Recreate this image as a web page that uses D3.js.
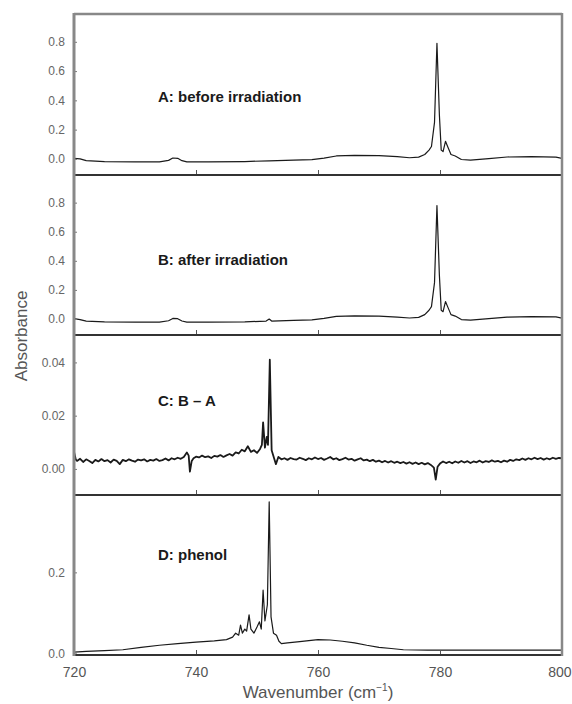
<!DOCTYPE html>
<html><head><meta charset="utf-8">
<script src="https://cdn.jsdelivr.net/npm/d3@7"></script>
<style>body{margin:0;background:#fff;}svg{display:block;font-family:Arial,"Liberation Sans",sans-serif;}</style>
</head><body>
<svg id="c" width="572" height="704"></svg>
<script>
// ---- data ----
const xTicks = [720, 740, 760, 780, 800];
const panelLabels = ["A: before irradiation", "B: after irradiation", "C: B \u2013 A", "D: phenol"];
const yTicksA = [0, 0.2, 0.4, 0.6, 0.8];
const yTicksB = [0, 0.2, 0.4, 0.6, 0.8];
const yTicksC = [0, 0.02, 0.04];
const yTicksD = [0, 0.2];

const specA = [[720,0.003],[721,0.0],[722,-0.012],[725,-0.018],[730,-0.02],[734,-0.02],[735.5,-0.01],[736.2,0.006],[737,0.004],[737.7,-0.012],[738.5,-0.02],[742,-0.02],[748,-0.018],[752,-0.013],[756,-0.009],[759,-0.005],[761,0.005],[763,0.02],[766,0.024],[770,0.022],[773,0.015],[775,0.008],[776.5,0.012],[777.5,0.03],[778.2,0.06],[778.6,0.085],[779.1,0.25],[779.5,0.79],[779.9,0.3],[780.2,0.06],[780.5,0.05],[780.9,0.12],[781.3,0.08],[781.8,0.03],[782.5,0.02],[783.5,-0.004],[785,-0.008],[788,0.002],[791,0.013],[795,0.015],[799,0.012],[800,0.004]];
const specB = [[720,0.002],[721,-0.004],[722,-0.015],[725,-0.02],[730,-0.022],[734,-0.022],[735.5,-0.012],[736.2,0.004],[737,0.002],[737.7,-0.014],[738.5,-0.022],[742,-0.022],[748,-0.02],[751.5,-0.014],[752,0.0],[752.4,-0.014],[756,-0.01],[759,-0.006],[761,0.004],[763,0.018],[766,0.022],[770,0.02],[773,0.013],[775,0.007],[776.5,0.011],[777.5,0.03],[778.2,0.06],[778.6,0.085],[779.1,0.25],[779.5,0.78],[779.9,0.3],[780.2,0.06],[780.5,0.05],[780.9,0.12],[781.3,0.08],[781.8,0.03],[782.5,0.02],[783.5,-0.004],[785,-0.008],[788,0.002],[791,0.013],[795,0.016],[799,0.014],[800,0.006]];
const specC = [[720.0,0.0065],[720.3,0.0035],[720.5,0.0030],[721.0,0.0038],[721.5,0.0026],[722.0,0.0036],[722.5,0.0030],[723.0,0.0022],[723.5,0.0034],[724.0,0.0028],[724.5,0.0037],[725.0,0.0029],[725.5,0.0033],[726.0,0.0024],[726.5,0.0035],[727.0,0.0030],[727.5,0.0018],[728.0,0.0034],[728.5,0.0029],[729.0,0.0036],[729.5,0.0031],[730.0,0.0027],[730.5,0.0035],[731.0,0.0032],[731.5,0.0036],[732.0,0.0028],[732.5,0.0034],[733.0,0.0031],[733.5,0.0037],[734.0,0.0030],[734.5,0.0033],[735.0,0.0039],[735.5,0.0032],[736.0,0.0040],[736.5,0.0036],[737.0,0.0042],[737.5,0.0038],[738.0,0.0045],[738.5,0.0062],[738.8,0.0050],[739.0,-0.0010],[739.3,0.0030],[739.6,0.0040],[740.0,0.0046],[740.5,0.0043],[741.0,0.0050],[741.5,0.0044],[742.0,0.0047],[742.5,0.0041],[743.0,0.0049],[743.5,0.0046],[744.0,0.0052],[744.5,0.0045],[745.0,0.0051],[745.5,0.0056],[746.0,0.0050],[746.5,0.0062],[747.0,0.0058],[747.5,0.0072],[748.0,0.0066],[748.5,0.0085],[749.0,0.0064],[749.5,0.0070],[750.0,0.0060],[750.5,0.0075],[750.8,0.0090],[751.0,0.0175],[751.3,0.0080],[751.6,0.0120],[751.8,0.0090],[752.1,0.0410],[752.4,0.0070],[752.8,0.0040],[753.1,0.0018],[753.5,0.0045],[754.0,0.0036],[754.5,0.0040],[755.0,0.0034],[755.5,0.0041],[756.0,0.0037],[756.5,0.0035],[757.0,0.0042],[757.5,0.0038],[758.0,0.0033],[758.5,0.0040],[759.0,0.0036],[759.5,0.0043],[760.0,0.0037],[760.5,0.0041],[761.0,0.0034],[761.5,0.0039],[762.0,0.0045],[762.5,0.0036],[763.0,0.0040],[763.5,0.0033],[764.0,0.0037],[764.5,0.0042],[765.0,0.0035],[765.5,0.0038],[766.0,0.0031],[766.5,0.0036],[767.0,0.0040],[767.5,0.0032],[768.0,0.0035],[768.5,0.0029],[769.0,0.0034],[769.5,0.0027],[770.0,0.0031],[770.5,0.0025],[771.0,0.0030],[771.5,0.0024],[772.0,0.0029],[772.5,0.0023],[773.0,0.0027],[773.5,0.0022],[774.0,0.0026],[774.5,0.0020],[775.0,0.0025],[775.5,0.0019],[776.0,0.0024],[776.5,0.0018],[777.0,0.0023],[777.5,0.0017],[778.0,0.0022],[778.5,0.0015],[779.0,0.0005],[779.3,-0.0040],[779.6,0.0008],[780.0,0.0020],[780.5,0.0028],[781.0,0.0022],[781.5,0.0027],[782.0,0.0021],[782.5,0.0028],[783.0,0.0023],[783.5,0.0030],[784.0,0.0024],[784.5,0.0029],[785.0,0.0022],[785.5,0.0028],[786.0,0.0025],[786.5,0.0031],[787.0,0.0024],[787.5,0.0029],[788.0,0.0026],[788.5,0.0032],[789.0,0.0027],[789.5,0.0030],[790.0,0.0025],[790.5,0.0031],[791.0,0.0027],[791.5,0.0034],[792.0,0.0030],[792.5,0.0036],[793.0,0.0033],[793.5,0.0039],[794.0,0.0034],[794.5,0.0040],[795.0,0.0036],[795.5,0.0042],[796.0,0.0037],[796.5,0.0041],[797.0,0.0035],[797.5,0.0040],[798.0,0.0036],[798.5,0.0042],[799.0,0.0038],[799.5,0.0041],[800.0,0.0040]];
const specD = [[720,0.003],[722,0.005],[725,0.007],[728,0.009],[731,0.015],[734,0.02],[737,0.024],[740,0.028],[743,0.031],[745,0.034],[746,0.04],[746.5,0.05],[747,0.045],[747.3,0.07],[747.6,0.05],[748,0.06],[748.3,0.055],[748.7,0.095],[749,0.06],[749.5,0.05],[750,0.065],[750.4,0.078],[750.7,0.06],[751.0,0.156],[751.3,0.08],[751.7,0.12],[752.0,0.374],[752.3,0.09],[752.7,0.05],[753.2,0.045],[753.6,0.03],[754,0.024],[755,0.026],[757,0.029],[760,0.034],[762,0.033],[764,0.03],[766,0.026],[768,0.02],[770,0.015],[772,0.012],[774,0.009],[778,0.008],[785,0.008],[790,0.008],[795,0.008],[800,0.008]];

// ---- layout ----
const L = 74, R = 562;
const panels = [
  {data: specA, top: 14,  bot: 175, dom: [-0.11, 0.99],     ticks: yTicksA, fmt: ".1f", label: panelLabels[0], ly: 102, sw: 1.2},
  {data: specB, top: 175, bot: 335, dom: [-0.11, 0.99],     ticks: yTicksB, fmt: ".1f", label: panelLabels[1], ly: 265, sw: 1.2},
  {data: specC, top: 335, bot: 495, dom: [-0.0098, 0.0503], ticks: yTicksC, fmt: ".2f", label: panelLabels[2], ly: 406, sw: 1.8},
  {data: specD, top: 495, bot: 655, dom: [-0.004, 0.391],   ticks: yTicksD, fmt: ".1f", label: panelLabels[3], ly: 560, sw: 1.2}
];

const svg = d3.select("#c");
const x = d3.scaleLinear().domain([720, 800]).range([L, R]);

panels.forEach((p, i) => {
  const y = d3.scaleLinear().domain(p.dom).range([p.bot, p.top]);
  const g = svg.append("g");
  g.append("defs").append("clipPath").attr("id", "clip" + i)
    .append("rect").attr("x", L).attr("y", p.top).attr("width", R - L).attr("height", p.bot - p.top);
  const line = d3.line().x(d => x(d[0])).y(d => y(d[1]));
  g.append("path").datum(p.data).attr("d", line).attr("fill", "none")
    .attr("stroke", "#1a1a1a").attr("stroke-width", p.sw).attr("stroke-linejoin", "round")
    .attr("clip-path", "url(#clip" + i + ")");

  // y axis (ticks inward)
  const ya = d3.axisLeft(y).tickValues(p.ticks).tickFormat(d3.format(p.fmt)).tickSize(-3).tickPadding(9);
  const yg = g.append("g").attr("transform", `translate(${L},0)`).call(ya);
  yg.select(".domain").remove();
  yg.selectAll(".tick line").attr("stroke", "#777").attr("stroke-width", 1);
  yg.selectAll(".tick text").attr("fill", "#666").style("font-size", "12px").style("font-family", "Arial, 'Liberation Sans', sans-serif");

  // bottom x ticks (inward)
  const xa = d3.axisBottom(x).tickValues([740, 760, 780]).tickSize(-5).tickFormat("");
  const xg = g.append("g").attr("transform", `translate(0,${p.bot})`).call(xa);
  xg.select(".domain").remove();
  xg.selectAll(".tick line").attr("stroke", "#555").attr("stroke-width", 1);

  g.append("text").attr("x", 158).attr("y", p.ly).text(p.label)
    .attr("fill", "#1a1a1a").style("font-size", "15px").style("font-weight", "bold");

  // panel separator / bottom line
  g.append("line").attr("x1", L).attr("x2", R).attr("y1", p.bot).attr("y2", p.bot)
    .attr("stroke", "#333").attr("stroke-width", 2);
});

// outer frame
svg.append("line").attr("x1", L).attr("x2", R).attr("y1", 14).attr("y2", 14).attr("stroke", "#888").attr("stroke-width", 2.5);
svg.append("line").attr("x1", L).attr("x2", L).attr("y1", 13).attr("y2", 656).attr("stroke", "#888").attr("stroke-width", 3);
svg.append("line").attr("x1", R).attr("x2", R).attr("y1", 13).attr("y2", 656).attr("stroke", "#888").attr("stroke-width", 2.5);

// x axis labels
const xb = d3.axisBottom(x).tickValues(xTicks).tickSize(0).tickPadding(10).tickFormat(d3.format("d"));
const xbg = svg.append("g").attr("transform", "translate(0,657)").call(xb);
xbg.select(".domain").remove();
xbg.selectAll(".tick text").attr("fill", "#555").style("font-size", "14px").style("font-family", "Arial, 'Liberation Sans', sans-serif");
// keep the last label inside the page
xbg.selectAll(".tick").filter(d => d === 800).select("text").attr("text-anchor", "end").attr("x", 9);

// axis titles
const xt = svg.append("text").attr("x", 318).attr("y", 698).attr("text-anchor", "middle")
  .attr("fill", "#555").style("font-size", "17px");
xt.append("tspan").text("Wavenumber (cm");
xt.append("tspan").attr("dy", -7).style("font-size", "10px").text("\u22121");
xt.append("tspan").attr("dy", 7).text(")");

svg.append("text").attr("transform", "translate(27,336) rotate(-90)").attr("text-anchor", "middle")
  .attr("fill", "#555").style("font-size", "17px").text("Absorbance");
</script>
</body></html>
